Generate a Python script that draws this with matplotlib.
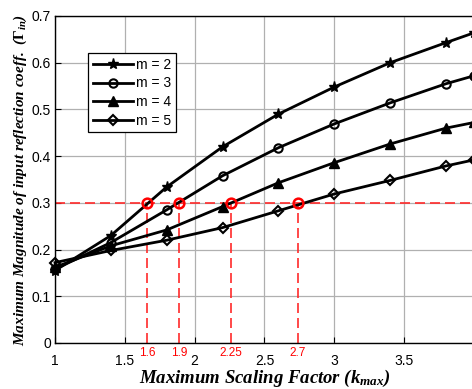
import matplotlib
matplotlib.use("Agg")
import matplotlib.pyplot as plt
from matplotlib.transforms import blended_transform_factory

# ---- data ----
k_max = [1.0, 1.4, 1.8, 2.2, 2.6, 3.0, 3.4, 3.8, 4.0]
gamma_m2 = [0.155, 0.230, 0.334, 0.420, 0.490, 0.548, 0.600, 0.643, 0.664]
gamma_m3 = [0.158, 0.215, 0.285, 0.358, 0.418, 0.469, 0.514, 0.555, 0.572]
gamma_m4 = [0.162, 0.208, 0.242, 0.292, 0.343, 0.386, 0.426, 0.460, 0.472]
gamma_m5 = [0.172, 0.198, 0.220, 0.247, 0.283, 0.319, 0.348, 0.379, 0.392]
series_labels = ["m = 2", "m = 3", "m = 4", "m = 5"]
threshold = 0.3
cross_x = [1.66, 1.89, 2.26, 2.74]
cross_labels = ["1.6", "1.9", "2.25", "2.7"]
xticks = [1, 1.5, 2, 2.5, 3, 3.5]
yticks = [0, 0.1, 0.2, 0.3, 0.4, 0.5, 0.6, 0.7]

plt.rcParams["mathtext.fontset"] = "custom"
plt.rcParams["mathtext.rm"] = "Liberation Serif:bold"
plt.rcParams["mathtext.it"] = "Liberation Serif:italic:bold"
plt.rcParams["mathtext.bf"] = "Liberation Serif:bold"

fig = plt.figure(figsize=(4.72, 3.89), dpi=100)
ax = fig.add_axes([0.1165, 0.1183, 0.8877, 0.8406])

red = "#ff2a2a"
# red reference lines
ax.plot([1, 4], [threshold, threshold], color=red, lw=1.2, dashes=(6, 3), zorder=2)
for cx in cross_x:
    ax.plot([cx, cx], [0, threshold], color=red, lw=1.2, dashes=(6, 3), zorder=2)

styles = [
    dict(marker="*", markersize=8, markerfacecolor="black"),
    dict(marker="o", markersize=6, markerfacecolor="none", markeredgewidth=1.5),
    dict(marker="^", markersize=7, markerfacecolor="black"),
    dict(marker="D", markersize=5.5, markerfacecolor="none", markeredgewidth=1.5),
]
for ys, lab, st in zip([gamma_m2, gamma_m3, gamma_m4, gamma_m5], series_labels, styles):
    ax.plot(k_max, ys, color="black", lw=2, label=lab, zorder=3, clip_on=False, **st)

ax.plot(cross_x, [threshold] * len(cross_x), linestyle="none", marker="o",
        markersize=7, markerfacecolor="none", markeredgecolor="red",
        markeredgewidth=1.8, zorder=4)

trans = blended_transform_factory(ax.transData, ax.transAxes)
for cx, cl in zip(cross_x, cross_labels):
    ax.text(cx, -0.012, cl, transform=trans, ha="center", va="top",
            color="red", fontsize=8.5, family="Liberation Sans")

ax.set_xlim(1, 4)
ax.set_ylim(0, 0.7)
ax.set_xticks(xticks)
ax.set_xticklabels(["1", "1.5", "2", "2.5", "3", "3.5"])
ax.set_yticks(yticks)
ax.set_yticklabels(["0", "0.1", "0.2", "0.3", "0.4", "0.5", "0.6", "0.7"])
ax.tick_params(direction="in", length=4, width=0.8, labelsize=10)
ax.tick_params(axis="x", pad=8)
ax.tick_params(axis="y", pad=3)
for lbl in ax.get_xticklabels() + ax.get_yticklabels():
    lbl.set_family("Liberation Sans")
ax.grid(True, color="#b0b0b0", lw=0.9, zorder=0)
ax.set_axisbelow(True)
for sp in ax.spines.values():
    sp.set_linewidth(1.0)

ax.set_xlabel(r"Maximum Scaling Factor ($k_{max}$)", family="Liberation Serif",
              fontsize=13.5, fontweight="bold", style="italic", labelpad=0)
ax.set_ylabel(r"Maximum Magnitude of input reflection coeff.  ($\Gamma_{in}$)",
              family="Liberation Serif", fontsize=11, fontweight="bold",
              style="italic", labelpad=2)

leg = ax.legend(loc="upper left", bbox_to_anchor=(0.079, 0.887), borderaxespad=0,
                fancybox=False, edgecolor="black", framealpha=1,
                handlelength=2.9, handletextpad=0.2, labelspacing=0.33,
                borderpad=0.35, prop={"family": "Liberation Sans", "size": 10})
leg.get_frame().set_linewidth(0.9)

fig.savefig("out.png", dpi=100)
